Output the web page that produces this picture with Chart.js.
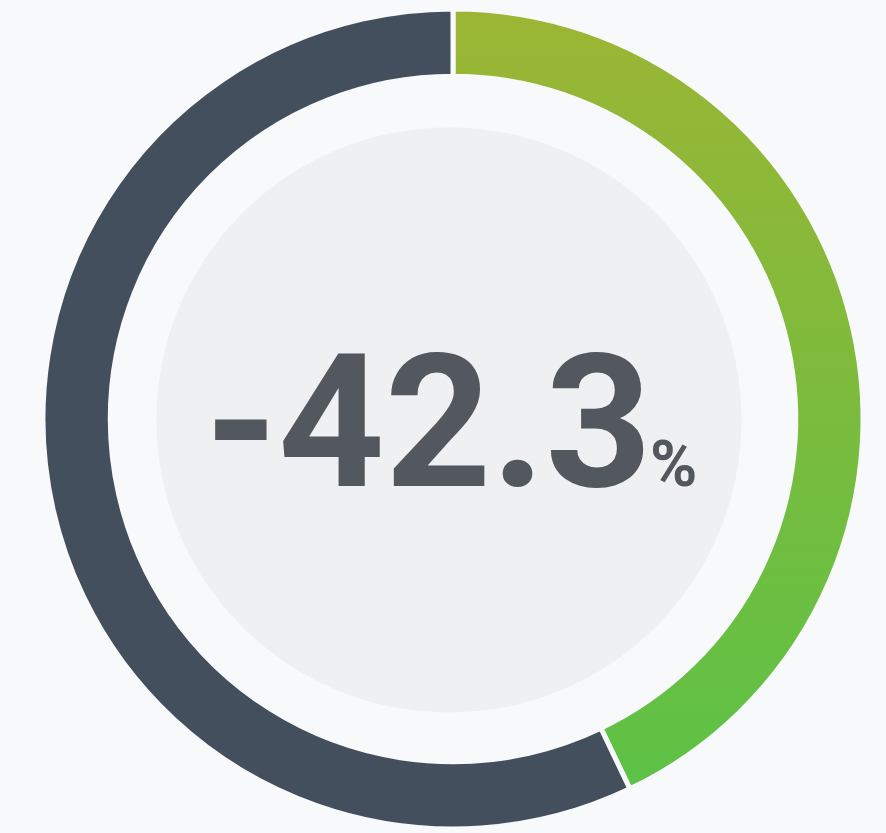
<!DOCTYPE html>
<html>
<head>
<meta charset="utf-8">
<script src="https://cdn.jsdelivr.net/npm/chart.js@4.4.1/dist/chart.umd.min.js"></script>
<style>
  html, body { margin: 0; padding: 0; background: #f8f9fa; }
  #wrap { width: 886px; height: 833px; position: relative; }
</style>
</head>
<body>
<div id="wrap"><canvas id="ring"></canvas></div>
<script>
// values (share of the circle)
const labels = ["Change", "Rest"];
const values = [42.9, 57.1];
const centerValue = "-42.3";
const centerUnit = "%";

const bg = "#f8f9fa";
const dark = "#434f5c";

// light grey disc + the big number in the middle
const centerPlugin = {
  id: "center",
  beforeDatasetsDraw(chart) {
    const arc = chart.getDatasetMeta(0).data[0];
    const ctx = chart.ctx;
    ctx.save();
    ctx.fillStyle = "#eff0f2";
    ctx.beginPath();
    ctx.arc(arc.x - 4, arc.y + 1, 292.5, 0, Math.PI * 2);
    ctx.fill();
    ctx.restore();
  },
  afterDraw(chart) {
    const arc = chart.getDatasetMeta(0).data[0];
    const ctx = chart.ctx;
    ctx.save();
    ctx.fillStyle = "#53575e";
    ctx.textBaseline = "alphabetic";
    ctx.textAlign = "left";
    const bigFont = "bold 186px Roboto";
    const smallFont = "bold 64px Roboto";
    ctx.font = bigFont;
    const w1 = ctx.measureText(centerValue).width;
    ctx.font = smallFont;
    const w2 = ctx.measureText(centerUnit).width;
    const gap = -2;
    const x0 = arc.x - 2 - (w1 + gap + w2) / 2;
    const base = arc.y + 67;
    ctx.font = bigFont;
    ctx.fillText(centerValue, x0, base);
    ctx.font = smallFont;
    ctx.fillText(centerUnit, x0 + w1 + gap, base);
    ctx.restore();
  }
};

new Chart(document.getElementById("ring"), {
  type: "doughnut",
  data: {
    labels: labels,
    datasets: [{
      data: values,
      backgroundColor(c) {
        if (c.dataIndex === 1) return dark;
        const area = c.chart.chartArea;
        if (!area) return "#7cbb3b";
        const g = c.chart.ctx.createLinearGradient(0, area.top + 5, 0, 790);
        g.addColorStop(0, "#9cb534");
        g.addColorStop(1, "#5cc246");
        return g;
      },
      borderColor: bg,
      borderWidth: 5,
      radius: 410,
      cutout: 344
    }]
  },
  options: {
    responsive: true,
    maintainAspectRatio: false,
    animation: false,
    layout: { padding: { left: 20, right: 0, top: 5, bottom: 0 } },
    plugins: {
      legend: { display: false },
      tooltip: { enabled: false }
    }
  },
  plugins: [centerPlugin]
});
</script>
</body>
</html>
